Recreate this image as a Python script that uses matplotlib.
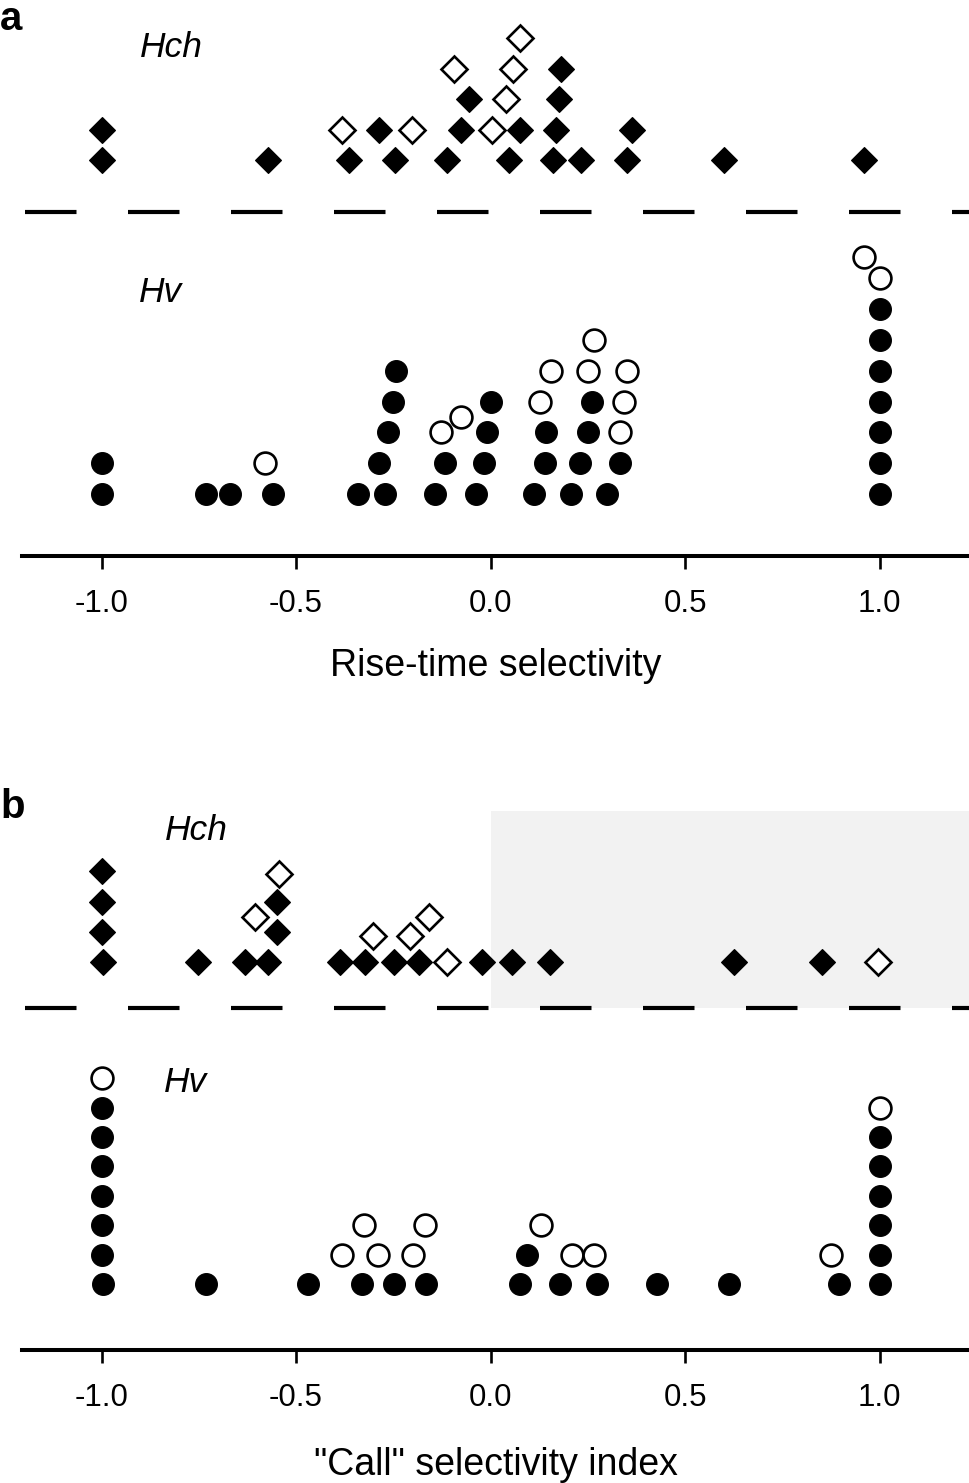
import numpy as np
import matplotlib
matplotlib.use('Agg')
import matplotlib.pyplot as plt

plt.rcParams['font.family'] = ['Liberation Sans', 'DejaVu Sans']

W, H = 970, 1483

# ---- panel a: rise-time selectivity ----
# x value and stack level (row) of every symbol
a_hch_fill_x = [-1.00, -0.573, -0.365, -0.246, -0.112, 0.048, 0.161, 0.232, 0.352, 0.601, 0.960,
                -1.00, -0.287, -0.075, 0.076, 0.169, 0.363,
                -0.056, 0.176,
                0.180]
a_hch_fill_lv = [1]*11 + [2]*6 + [3]*2 + [4]
a_hch_open_x = [-0.381, -0.202, 0.005, 0.040, -0.094, 0.057, 0.076]
a_hch_open_lv = [2, 2, 2, 3, 4, 4, 5]

a_hv_fill_x = [-1.00, -0.731, -0.669, -0.560, -0.341, -0.272, -0.142, -0.037, 0.111, 0.208, 0.299, 1.00,
               -1.00, -0.287, -0.118, -0.018, 0.140, 0.231, 0.334, 1.00,
               -0.263, -0.008, 0.143, 0.251, 1.00,
               -0.250, 0.000, 0.262, 1.00,
               -0.242, 1.00,
               1.00,
               1.00]
a_hv_fill_lv = [1]*12 + [2]*8 + [3]*5 + [4]*4 + [5]*2 + [6] + [7]
a_hv_open_x = [-0.579, -0.127, 0.334, -0.075, 0.127, 0.342, 0.156, 0.251, 0.350, 0.267, 1.00, 0.960]
a_hv_open_lv = [2, 3, 3, 3.5, 4, 4, 5, 5, 5, 6, 8, 8.7]

# ---- panel b: "call" selectivity index ----
b_hch_fill_x = [-0.997, -0.751, -0.632, -0.573, -0.386, -0.322, -0.247, -0.183, -0.022, 0.056, 0.154, 0.626, 0.853,
                -1.00, -0.549,
                -1.00, -0.548,
                -1.00]
b_hch_fill_lv = [1]*13 + [2]*2 + [3]*2 + [4]
b_hch_open_x = [-0.111, 0.996, -0.302, -0.208, -0.605, -0.159, -0.545]
b_hch_open_lv = [1, 1, 1.88, 1.88, 2.5, 2.5, 3.93]

b_hv_fill_x = [-0.997, -0.732, -0.470, -0.331, -0.247, -0.167, 0.075, 0.178, 0.273, 0.427, 0.612, 0.896, 1.00,
               -1.00, 0.094, 1.00,
               -1.00, 1.00,
               -1.00, 1.00,
               -1.00, 1.00,
               -1.00, 1.00,
               -1.00]
b_hv_fill_lv = [1]*13 + [2]*3 + [3]*2 + [4]*2 + [5]*2 + [6]*2 + [7]
b_hv_open_x = [-0.381, -0.290, -0.198, 0.210, 0.265, 0.874, -0.326, -0.168, 0.130, 1.00, -1.00]
b_hv_open_lv = [2, 2, 2, 2, 2, 2, 3, 3, 3, 7, 8]

xticks = [-1.0, -0.5, 0.0, 0.5, 1.0]
xticklabels = ['-1.0', '-0.5', '0.0', '0.5', '1.0']
xlim = (-1.2054, 1.2326)

fig = plt.figure(figsize=(W / 100, H / 100), dpi=100)


def add_ax(top, bottom, left=21.6, right=970):
    return fig.add_axes([left / W, 1 - bottom / H, (right - left) / W, (bottom - top) / H])


def clean(ax):
    for s in ax.spines.values():
        s.set_visible(False)
    ax.set_xticks([])
    ax.set_yticks([])
    ax.patch.set_alpha(0)


def points(ax, xs, lv, marker, ms, filled):
    if filled:
        ax.plot(xs, lv, ls='none', marker=marker, ms=ms, mfc='black', mec='black',
                mew=0.8, clip_on=False, zorder=3)
    else:
        ax.plot(xs, lv, ls='none', marker=marker, ms=ms, mfc='white', mec='black',
                mew=1.9, clip_on=False, zorder=4)


def dashed(ax, y):
    lw = 3.0
    d = 51.5 * 0.72 / lw
    ax.plot([-1.197, xlim[1]], [y, y], color='black', lw=lw, dashes=(d, d),
            dash_capstyle='butt', clip_on=False, zorder=2)


def xaxis(ax, label, labelpad):
    ax.spines['bottom'].set_visible(True)
    ax.spines['bottom'].set_linewidth(2.9)
    ax.set_xticks(xticks)
    ax.set_xticklabels(xticklabels, fontsize=22.5)
    ax.tick_params(axis='x', direction='out', length=9.5, width=1.9, pad=14)
    ax.set_xlabel(label, fontsize=27, labelpad=labelpad)


diamond_ms = 13.5
circle_ms = 15.7

# panel a, Hch
ax = add_ax(0, 212)
clean(ax)
ax.set_xlim(xlim)
ax.set_ylim(-0.683, 6.245)
points(ax, a_hch_fill_x, a_hch_fill_lv, 'D', diamond_ms, True)
points(ax, a_hch_open_x, a_hch_open_lv, 'D', diamond_ms, False)
dashed(ax, -0.683)

# panel a, Hv
ax = add_ax(212, 556)
clean(ax)
ax.set_xlim(xlim)
ax.set_ylim(-1.013, 10.156)
points(ax, a_hv_fill_x, a_hv_fill_lv, 'o', circle_ms, True)
points(ax, a_hv_open_x, a_hv_open_lv, 'o', circle_ms, False)
xaxis(ax, 'Rise-time selectivity', 21)

# panel b, Hch
ax = add_ax(790, 1008)
clean(ax)
ax.set_xlim(xlim)
ax.set_ylim(-0.508, 6.687)
ax.axvspan(0.0, xlim[1], ymin=0, ymax=0.904, color='#f2f2f2', lw=0, zorder=0)
points(ax, b_hch_fill_x, b_hch_fill_lv, 'D', diamond_ms, True)
points(ax, b_hch_open_x, b_hch_open_lv, 'D', diamond_ms, False)
dashed(ax, -0.508)

# panel b, Hv
ax = add_ax(1008, 1350)
clean(ax)
ax.set_xlim(xlim)
ax.set_ylim(-1.245, 10.39)
points(ax, b_hv_fill_x, b_hv_fill_lv, 'o', circle_ms, True)
points(ax, b_hv_open_x, b_hv_open_lv, 'o', circle_ms, False)
xaxis(ax, '"Call" selectivity index', 25)


def label(px, py, s, **kw):
    fig.text(px / W, 1 - py / H, s, va='baseline', ha='left', **kw)


label(0, 30, 'a', fontsize=29, fontweight='bold')
label(0, 818, 'b', fontsize=29, fontweight='bold')
label(140, 57, 'Hch', fontsize=25.5, style='italic')
label(139, 302, 'Hv', fontsize=25.5, style='italic')
label(165, 840, 'Hch', fontsize=25.5, style='italic')
label(164, 1092, 'Hv', fontsize=25.5, style='italic')

fig.savefig('out.png', dpi=100)
